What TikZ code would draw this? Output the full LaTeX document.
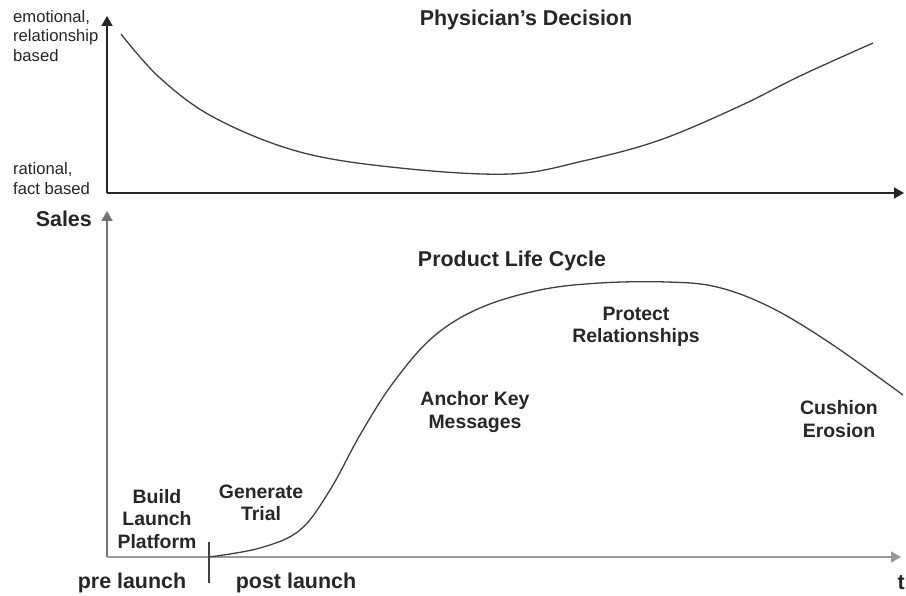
\documentclass[tikz,border=0pt]{standalone}
\usepackage{fontspec}
\setmainfont{Liberation Sans}
\usepackage{tikz}
\usetikzlibrary{arrows.meta, positioning}
\tikzstyle{axisArrow} = [line width=1.8bp, -{Triangle[length=10bp,width=11bp]}]
\tikzstyle{cycleCurve} = [line width=1.3bp, black!75]
\tikzstyle{smallLabel} = [inner sep=0, align=left, font=\fontsize{16.7}{20}\selectfont, text=black!85]
\tikzstyle{phaseLabel} = [inner sep=0, align=center, font=\fontsize{19.5}{22.5}\selectfont\bfseries, text=black!85]
\tikzstyle{titleLabel} = [inner sep=0, font=\fontsize{21.5}{24}\selectfont\bfseries, text=black!85]

\begin{document}
\begin{tikzpicture}[x=1bp, y=-1bp]
		\useasboundingbox (0,0) rectangle (906,596);							% Bildgroesse wie Vorlage
		\coordinate (dec-o) at (107,193);								% Ursprung oben
		\coordinate (dec-y) at (107,16);								% y-Achse oben
		\coordinate (dec-x) at (904,193);								% t-Achse oben
		\coordinate (plc-o) at (107,557);								% Ursprung unten
		\coordinate (plc-y) at (107,211);								% Sales-Achse
		\coordinate (plc-x) at (901,557);								% t-Achse unten
		\coordinate (launch-top) at (209,542);							% Markierung Launch
		\coordinate (launch-bot) at (209,583);
		
		% Beschriftungen
		\node[smallLabel, anchor=west] (emo) at (13,36) {emotional,\\relationship\\based};
		\node[smallLabel, anchor=west] (rat) at (13,179) {rational,\\fact based};
		\node[titleLabel, anchor=east] (sales) at (92,219) {Sales};
		\node[titleLabel] (decision) at (526,20) {Physician{\char"27}s Decision};
		\node[titleLabel] (plc) at (512,261) {Product Life Cycle};
		\node[phaseLabel] (protect) at (636,327) {Protect\\Relationships};
		\node[phaseLabel] (anchor) at (475,412) {Anchor Key\\Messages};
		\node[phaseLabel] (cushion) at (839,419) {Cushion\\Erosion};
		\node[phaseLabel] (build) at (157,519) {Build\\Launch\\Platform};
		\node[phaseLabel] (trial) at (261,503) {Generate\\Trial};
		\node[titleLabel] (pre) at (132,583) {pre launch};
		\node[titleLabel] (post) at (296,583) {post launch};
		\node[titleLabel, anchor=east] (t) at (905,583) {t};
		
		% Achsen
		\draw[axisArrow, black!85] (dec-o) -- (dec-y);
		\draw[axisArrow, black!85] (dec-o) -- (dec-x);
		\draw[axisArrow, black!55] (plc-o) -- (plc-y);
		\draw[axisArrow, black!40] (plc-o) -- (plc-x);
		\draw[line width=1.3bp, black!75] (launch-top) -- (launch-bot);
		
		% Kurven
		\draw[cycleCurve] plot[smooth, tension=0.6] coordinates {(121,34) (160,78) (215,118) (300,152) (400,168) (510,174) (583,161) (660,140) (740,106) (800,76) (873,43)};
		\draw[cycleCurve] plot[smooth, tension=0.6] coordinates {(209,557) (260,548) (300,530) (330,490) (360,435) (393,383) (433,337) (480,308) (540,290) (600,283) (667,282) (717,287) (770,307) (830,343) (903,395)};
\end{tikzpicture}
\end{document}
